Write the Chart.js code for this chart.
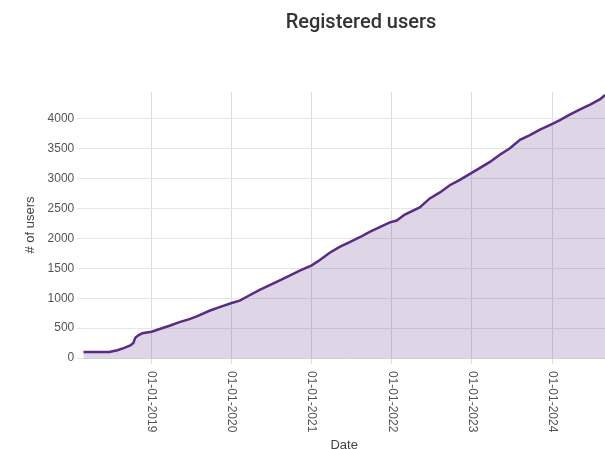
<!DOCTYPE html>
<html lang="en">
<head>
  <meta charset="UTF-8">
  <title>Registered users</title>
  <script src="https://cdn.jsdelivr.net/npm/chart.js"></script>
  <style>
    html, body { margin: 0; padding: 0; background: #fff; overflow: hidden; }
    #wrap { position: relative; width: 605px; height: 449px; overflow: hidden; }
    #title {
      position: absolute; left: 0; top: 8px; width: 722px;
      text-align: center; font: 500 20px Roboto, sans-serif; line-height: 26px; color: #333;
    }
    canvas { position: absolute; left: 0; top: 0; }
  </style>
</head>
<body>
  <div id="wrap">
    <canvas id="myChart" width="605" height="453"></canvas>
    <div id="title">Registered users</div>
  </div>

  <script>
    // Dates of the readings
    var dates = [
      '2018-02-24', '2018-06-23', '2018-07-29', '2018-08-30', '2018-09-26', '2018-10-10',
      '2018-10-19', '2018-11-02', '2018-11-20', '2019-01-01', '2019-02-07', '2019-03-24',
      '2019-05-08', '2019-06-23', '2019-07-29', '2019-09-22', '2019-11-07', '2020-01-01',
      '2020-02-07', '2020-03-23', '2020-05-08', '2020-06-23', '2020-08-08', '2020-09-22',
      '2020-11-07', '2021-01-01', '2021-02-07', '2021-03-24', '2021-05-08', '2021-06-23',
      '2021-08-08', '2021-09-22', '2021-11-07', '2021-12-23', '2022-01-23', '2022-03-01',
      '2022-05-08', '2022-06-23', '2022-08-08', '2022-09-22', '2022-11-07', '2022-12-23',
      '2023-02-07', '2023-03-24', '2023-05-08', '2023-06-23', '2023-08-08', '2023-09-22',
      '2023-11-07', '2024-01-05', '2024-02-06', '2024-03-22', '2024-05-08', '2024-06-23',
      '2024-08-08', '2024-08-30'
    ];

    // Number of registered users on those dates
    var users = [
      100, 100, 130, 170, 210, 250,
      340, 380, 415, 440, 485, 540,
      600, 650, 700, 790, 850, 920,
      960, 1050, 1140, 1220, 1300, 1380,
      1460, 1550, 1640, 1760, 1860, 1940,
      2020, 2110, 2190, 2270, 2300, 2400,
      2520, 2670, 2770, 2890, 2980, 3080,
      3180, 3280, 3400, 3510, 3650, 3730,
      3820, 3920, 3980, 4070, 4160, 4240,
      4330, 4400
    ];

    // Ticks on both axes
    var tickYears = [2019, 2020, 2021, 2022, 2023, 2024];
    var tickUsers = [0, 500, 1000, 1500, 2000, 2500, 3000, 3500, 4000];

    // Turn 'YYYY-MM-DD' into a decimal year
    function toYear(s) {
      var p = s.split('-');
      var y = +p[0];
      var start = Date.UTC(y, 0, 1);
      var end = Date.UTC(y + 1, 0, 1);
      var d = Date.UTC(y, +p[1] - 1, +p[2]);
      return y + (d - start) / (end - start);
    }

    var points = dates.map(function (d, i) {
      return { x: toYear(d), y: users[i] };
    });

    // Date labels read top-to-bottom, so draw them ourselves
    var dateLabels = {
      id: 'dateLabels',
      afterDraw: function (chart) {
        var ctx = chart.ctx;
        var xs = chart.scales.x;
        ctx.save();
        ctx.font = '12px "Liberation Sans", Arial, sans-serif';
        ctx.fillStyle = '#555';
        ctx.textAlign = 'left';
        ctx.textBaseline = 'middle';
        tickYears.forEach(function (yr) {
          var px = xs.getPixelForValue(yr);
          ctx.save();
          ctx.translate(px, xs.top + 13);
          ctx.rotate(Math.PI / 2);
          ctx.fillText('01-01-' + yr, 0, 0);
          ctx.restore();
        });
        ctx.restore();
      }
    };

    var ctx = document.getElementById('myChart').getContext('2d');

    var myChart = new Chart(ctx, {
      type: 'line',
      data: {
        datasets: [{
          label: 'Registered users',
          data: points,
          borderColor: 'rgb(88, 44, 131)',
          backgroundColor: 'rgba(88, 44, 131, 0.2)',
          borderWidth: 2.5,
          pointRadius: 0,
          tension: 0,
          fill: 'origin'
        }]
      },
      plugins: [dateLabels],
      options: {
        responsive: false,
        animation: false,
        layout: {
          padding: { left: 19, right: 0, top: 92, bottom: 0 }
        },
        plugins: {
          legend: { display: false },
          tooltip: { enabled: false }
        },
        scales: {
          x: {
            type: 'linear',
            min: toYear(dates[0]),
            max: toYear(dates[dates.length - 1]),
            afterBuildTicks: function (scale) {
              scale.ticks = tickYears.map(function (v) { return { value: v }; });
            },
            afterFit: function (scale) { scale.height = 95; },
            ticks: {
              color: 'rgba(0,0,0,0)',
              minRotation: 90,
              maxRotation: 90,
              autoSkip: false,
              font: { family: '"Liberation Sans", Arial, sans-serif', size: 12 },
              callback: function (v) { return '01-01-' + v; }
            },
            grid: { color: '#dcdcdc', tickLength: 6 },
            border: { color: '#d0d0d0' },
            title: {
              display: true,
              text: 'Date',
              color: '#444',
              font: { family: '"Liberation Sans", Arial, sans-serif', size: 13 },
              padding: { top: 2, bottom: 0 }
            }
          },
          y: {
            min: 0,
            max: 4450,
            afterBuildTicks: function (scale) {
              scale.ticks = tickUsers.map(function (v) { return { value: v }; });
            },
            ticks: {
              color: '#555',
              font: { family: '"Liberation Sans", Arial, sans-serif', size: 12 },
              callback: function (v) { return String(v); }
            },
            grid: { color: '#e6e6e6', tickLength: 6 },
            border: { display: false },
            title: {
              display: true,
              text: '# of users',
              color: '#444',
              font: { family: '"Liberation Sans", Arial, sans-serif', size: 13 },
              padding: { top: 4, bottom: 6 }
            }
          }
        }
      }
    });
  </script>
</body>
</html>
